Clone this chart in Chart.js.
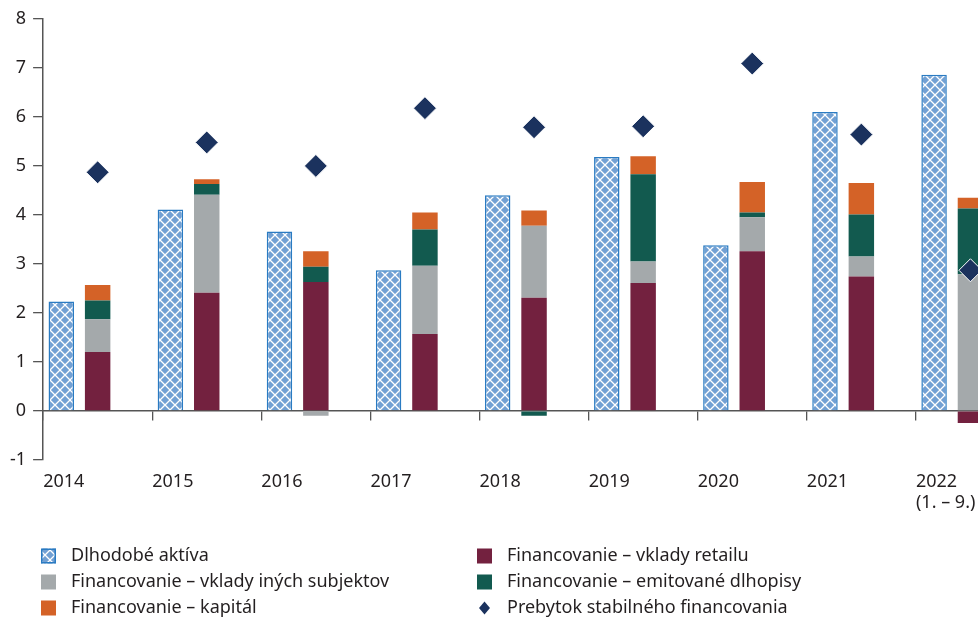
<!DOCTYPE html>
<html>
<head>
<meta charset="utf-8">
<script src="https://cdn.jsdelivr.net/npm/chart.js@4.4.0/dist/chart.umd.min.js"></script>
<style>
html, body { margin: 0; padding: 0; background: #fff; overflow: hidden; }
#wrap { width: 1060px; height: 617px; }
</style>
</head>
<body>
<div id="wrap"><canvas id="myChart" width="1060" height="617"></canvas></div>
<script>
// roky (kategórie)
var roky = ['2014', '2015', '2016', '2017', '2018', '2019', '2020', '2021', ['2022', '(1. – 9.)']];

// hodnoty odčítané z grafu
var dlhodobe_aktiva = [2.23, 4.11, 3.66, 2.87, 4.40, 5.18, 3.38, 6.10, 6.86];
var vklady_retailu  = [1.20, 2.41, 2.63, 1.57, 2.31, 2.61, 3.26, 2.74, -0.25];
var vklady_inych    = [0.67, 2.00, -0.10, 1.39, 1.47, 0.44, 0.69, 0.41, 2.79];
var dlhopisy        = [0.38, 0.22, 0.31, 0.74, -0.10, 1.78, 0.10, 0.86, 1.34];
var kapital         = [0.32, 0.10, 0.32, 0.35, 0.31, 0.37, 0.62, 0.64, 0.22];
var prebytok        = [4.87, 5.48, 5.00, 6.18, 5.79, 5.81, 7.09, 5.64, 2.87];

var y_min = -1, y_max = 8, y_krok = 1;

var farby = {
    modra: '#72a0d3',
    modra_okraj: '#2a7bc2',
    retail: '#73213f',
    sieda: '#a4a9ab',
    zelena: '#125a4f',
    oranzova: '#d46227',
    diamant: '#1b325e',
    text: '#231f20',
    os: '#555555'
};

// šrafovanie pre dlhodobé aktíva
function vzor() {
    var c = document.createElement('canvas');
    c.width = 10; c.height = 10;
    var g = c.getContext('2d');
    g.fillStyle = farby.modra;
    g.fillRect(0, 0, 10, 10);
    g.strokeStyle = '#ffffff';
    g.lineWidth = 1.3;
    g.beginPath();
    g.moveTo(-1, -1); g.lineTo(11, 11);
    g.moveTo(11, -1); g.lineTo(-1, 11);
    g.stroke();
    return g.createPattern(c, 'repeat');
}
var srafa = vzor();

Chart.defaults.font.family = '"Noto Sans", sans-serif';
Chart.defaults.font.size = 18;
Chart.defaults.color = farby.text;

// vlastná legenda v dvoch stĺpcoch
var legenda = {
    id: 'legenda',
    afterDraw: function (chart) {
        var ctx = chart.ctx;
        var polozky = chart.data.datasets.filter(function (d) { return d.label; });
        ctx.save();
        ctx.font = '18px "Noto Sans", sans-serif';
        ctx.textBaseline = 'middle';
        for (var i = 0; i < polozky.length; i++) {
            var d = polozky[i];
            var x = (i % 2) ? 477 : 41;
            var y = 556 + Math.floor(i / 2) * 26;
            if (d.type === 'line') {
                ctx.fillStyle = d.backgroundColor;
                ctx.beginPath();
                ctx.moveTo(x + 7.5, y - 6.5);
                ctx.lineTo(x + 13, y);
                ctx.lineTo(x + 7.5, y + 6.5);
                ctx.lineTo(x + 2, y);
                ctx.closePath();
                ctx.fill();
            } else {
                ctx.fillStyle = d.backgroundColor;
                ctx.fillRect(x, y - 7.5, 15, 15);
                if (d.borderWidth) {
                    ctx.strokeStyle = d.borderColor;
                    ctx.lineWidth = 1.5;
                    ctx.strokeRect(x + 0.75, y - 6.75, 13.5, 13.5);
                }
            }
            ctx.fillStyle = farby.text;
            ctx.fillText(d.label, x + 30, y);
        }
        ctx.restore();
    }
};

var ctx = document.getElementById('myChart').getContext('2d');
var chart = new Chart(ctx, {
    type: 'bar',
    data: {
        labels: roky,
        datasets: [{
            label: 'Dlhodobé aktíva',
            data: dlhodobe_aktiva,
            backgroundColor: srafa,
            borderColor: farby.modra_okraj,
            borderWidth: 1.5,
            stack: 'a',
            order: 1
        }, {
            label: 'Financovanie – vklady retailu',
            data: vklady_retailu,
            backgroundColor: farby.retail,
            borderWidth: 0,
            stack: 'b',
            order: 1
        }, {
            label: 'Financovanie – vklady iných subjektov',
            data: vklady_inych,
            backgroundColor: farby.sieda,
            borderWidth: 0,
            stack: 'b',
            order: 1
        }, {
            label: 'Financovanie – emitované dlhopisy',
            data: dlhopisy,
            backgroundColor: farby.zelena,
            borderWidth: 0,
            stack: 'b',
            order: 1
        }, {
            label: 'Financovanie – kapitál',
            data: kapital,
            backgroundColor: farby.oranzova,
            borderWidth: 0,
            stack: 'b',
            order: 1
        }, {
            type: 'line',
            label: 'Prebytok stabilného financovania',
            data: prebytok,
            showLine: false,
            pointStyle: 'rectRot',
            pointRadius: 11.5,
            pointHoverRadius: 11.5,
            backgroundColor: farby.diamant,
            borderColor: '#ffffff',
            pointBorderWidth: 1,
            stack: 'p',
            order: 0
        }, {
            // prázdny tretí stĺpec v skupine (medzera vpravo)
            label: '',
            data: [],
            stack: 'c',
            order: 1
        }]
    },
    options: {
        responsive: false,
        animation: false,
        layout: { padding: { left: 3, right: 35, top: 19, bottom: 100 } },
        datasets: {
            bar: { categoryPercentage: 1.0, barPercentage: 0.7 }
        },
        plugins: {
            legend: { display: false },
            tooltip: { enabled: false }
        },
        scales: {
            x: {
                type: 'category',
                stacked: true,
                offset: true,
                position: { y: 0 },
                ticks: { display: false },
                grid: { offset: true, drawOnChartArea: false, drawTicks: true, tickLength: 9, color: farby.os, lineWidth: 1.3 },
                border: { display: true, color: farby.os, width: 1.5 }
            },
            x2: {
                type: 'category',
                position: 'bottom',
                offset: true,
                ticks: { align: 'start', labelOffset: -54.5, padding: 3, maxRotation: 0, autoSkip: false },
                grid: { display: false },
                border: { display: false }
            },
            y: {
                stacked: true,
                min: y_min,
                max: y_max,
                ticks: { stepSize: y_krok, padding: 7 },
                grid: { drawOnChartArea: false, tickLength: 10, color: farby.os, lineWidth: 1.3 },
                border: { color: farby.os, width: 1.5 }
            }
        }
    },
    plugins: [legenda]
});
</script>
</body>
</html>
